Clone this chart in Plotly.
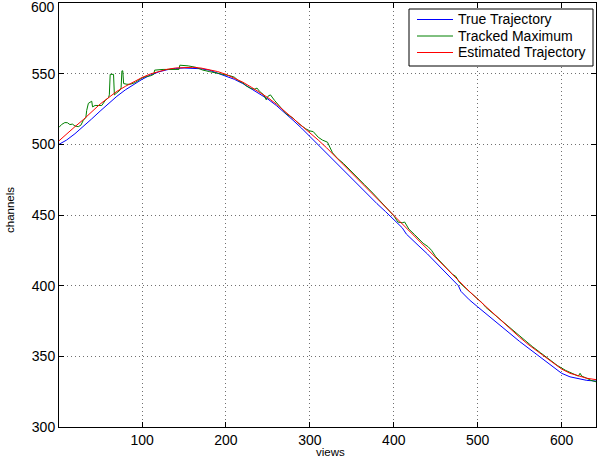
import plotly.graph_objects as go

# ---- data ----
true_x = [1, 10, 20, 30, 40, 50, 60, 70, 80, 90, 100, 110, 120, 130, 140, 150, 160, 170, 180, 190,
          200, 210, 220, 230, 240, 250, 260, 270, 280, 290, 300, 310, 320, 330, 340, 350, 360, 370,
          380, 390, 400, 410, 415, 420, 430, 440, 450, 460, 470, 477, 480, 490, 500, 510, 520, 530,
          540, 550, 560, 570, 580, 590, 598, 600, 610, 620, 630, 641]
true_y = [500, 503, 507.5, 512.5, 518, 523.5, 529, 534, 538.5, 542.5, 546, 549, 551.3, 552.8, 553.7, 554,
          554, 553.5, 552.5, 550.5, 548.5, 546, 543, 539.5, 536, 532, 527.5, 522.5, 517, 511.5, 505.5,
          499.5, 493.5, 487.5, 481.5, 475.5, 469.5, 463.5, 458, 452.5, 447, 441, 436.5, 433.5, 428,
          422.5, 416.5, 410.5, 404.5, 400, 396, 390, 385, 380, 375.5, 370.5, 365.5, 360.5, 356, 351.5,
          347, 343, 339.5, 338, 335.5, 334, 333, 332.5]

est_x = [1, 10, 20, 30, 40, 50, 60, 70, 80, 90, 100, 110, 120, 130, 140, 150, 160, 170, 180, 190,
         200, 210, 220, 230, 240, 250, 260, 270, 280, 290, 300, 310, 320, 330, 340, 350, 360, 370,
         380, 390, 400, 410, 420, 430, 440, 450, 460, 470, 480, 490, 500, 510, 520, 530, 540, 550,
         560, 570, 580, 590, 600, 610, 620, 630, 641]
est_y = [502.5, 507.5, 512.5, 517.5, 523, 528.5, 533, 537.5, 541, 544.3, 547.3, 549.8, 551.7, 553.1, 554,
         554.5, 554.5, 554, 553, 551.5, 549.5, 547, 544, 540.5, 537, 533, 528.5, 523.5, 518.5, 513.5,
         508.5, 503, 497.5, 491.5, 485.5, 479.5, 473.5, 467.5, 461.5, 455.5, 449.5, 443.5, 437.5,
         431.5, 425.5, 419.5, 413.5, 407.5, 401.5, 396, 390.5, 385, 379.5, 374, 368.5, 363.5, 358.5,
         354, 349.5, 345, 341, 338, 336, 334.5, 333.5]

trk_x = [1, 4, 8, 11, 14, 17, 20, 24, 27, 30, 33, 34, 36, 40, 41, 44, 48, 52, 56, 60, 61, 62, 66, 67,
         70, 74, 75, 76, 77, 78, 82, 86, 92, 96, 100, 105, 110, 114, 115, 125, 132, 134, 140, 144,
         145, 155, 164, 172, 180, 185, 195, 200, 205, 210, 215, 220, 225, 230, 234, 237, 240, 245,
         247, 248, 250, 253, 258, 265, 272, 280, 287, 295, 300, 304, 310, 315, 321, 327, 333, 340,
         348, 357, 365, 375, 385, 395, 400, 405, 410, 413, 418, 425, 435, 441, 445, 450, 460, 470,
         474, 478, 485, 495, 505, 510, 515, 525, 535, 545, 555, 565, 575, 585, 595, 605, 615, 620,
         622, 624, 630, 635, 641]
trk_y = [512, 514, 515.4, 515.3, 514, 514.3, 513, 512.5, 513.5, 517, 519, 524, 529, 530.5, 526.5,
         527.5, 527.5, 527.5, 531, 533, 535, 549.5, 549.5, 535, 536.5, 538.5, 540, 552, 552, 543,
         542.5, 542.5, 543.8, 545.5, 547, 548, 548.5, 549.5, 552.5, 553, 553, 552.5, 552.5, 553,
         556, 555.5, 554.5, 552.6, 551.5, 551, 549.5, 549.5, 548.5, 547.5, 545, 543.5, 541, 539.5,
         539, 539.8, 537.5, 535, 533, 531.5, 534, 535, 531, 526, 521.5, 518.5, 514.5, 511, 509.5,
         509, 505, 503, 501.5, 494, 490, 486.5, 481.5, 476.5, 471.5, 465.5, 459, 452.5, 449.5, 445,
         444.5, 445, 440, 436, 430, 427.5, 425, 420.5, 414, 408, 406.5, 402.5, 398.5, 393, 388,
         384.5, 382, 376.5, 371.5, 366.5, 361.5, 357, 352.5, 348, 343.5, 340, 337.5, 336, 338, 336,
         334.5, 333, 332]

x_ticks = [100, 200, 300, 400, 500, 600]
y_ticks = [300, 350, 400, 450, 500, 550, 600]

series_names = ["True Trajectory", "Tracked Maximum", "Estimated Trajectory"]
series_colors = ["#0000ff", "#008000", "#ff0000"]
x_title = "views"
y_title = "channels"

FONT = "Liberation Sans, Arial, Helvetica, sans-serif"

# figure / plot-area geometry (pixels)
W, H = 605, 463
ML, MR, MT, MB = 59, 9, 3, 36
PW, PH = W - ML - MR, H - MT - MB


def px_x(px):
    return (px - ML) / PW


def px_y(py):
    return (H - MB - py) / PH


fig = go.Figure()
for xs, ys, nm, col in [(true_x, true_y, series_names[0], series_colors[0]),
                        (trk_x, trk_y, series_names[1], series_colors[1]),
                        (est_x, est_y, series_names[2], series_colors[2])]:
    fig.add_trace(go.Scatter(x=xs, y=ys, mode="lines", name=nm,
                             line=dict(color=col, width=1), showlegend=False,
                             hoverinfo="skip"))

axis_common = dict(
    showline=True, linecolor="black", linewidth=1, mirror="ticks",
    ticks="inside", ticklen=5, tickcolor="black", tickwidth=1,
    showgrid=True, gridcolor="#707070", griddash="1px,3px", gridwidth=1,
    zeroline=False, tickfont=dict(family=FONT, size=14, color="black"),
    ticklabeloverflow="allow", automargin=False,
)

# the top y label sits just inside the window (as in the reference), so it is placed separately
y_ticktext = [str(v) for v in y_ticks]
top_label = y_ticktext[-1]
y_ticktext[-1] = ""

# legend box drawn as layout decoration (MATLAB-style)
shapes = [dict(type="rect", xref="paper", yref="paper",
               x0=px_x(409), x1=px_x(593), y0=px_y(66), y1=px_y(9),
               line=dict(color="black", width=1), fillcolor="white", layer="above")]
annotations = []
for i, (nm, col) in enumerate(zip(series_names, series_colors)):
    yy = px_y(19.5 + 16.5 * i)
    shapes.append(dict(type="line", xref="paper", yref="paper",
                       x0=px_x(417), x1=px_x(453), y0=yy, y1=yy,
                       line=dict(color=col, width=1), layer="above"))
    annotations.append(dict(xref="paper", yref="paper", x=px_x(456), y=yy,
                            text=nm, showarrow=False, xanchor="left", yanchor="middle",
                            font=dict(family=FONT, size=14, color="black")))

# axis titles
annotations.append(dict(xref="paper", yref="paper", x=px_x(330), y=px_y(452),
                        text=x_title, showarrow=False, xanchor="center", yanchor="middle",
                        font=dict(family=FONT, size=11.5, color="black")))
annotations.append(dict(xref="paper", yref="paper", x=px_x(10), y=px_y(210),
                        text=y_title, showarrow=False, xanchor="center", yanchor="middle",
                        textangle=-90, font=dict(family=FONT, size=11.5, color="black")))
annotations.append(dict(xref="paper", yref="paper", x=px_x(57), y=px_y(6.5),
                        text=top_label, showarrow=False, xanchor="right", yanchor="middle",
                        font=dict(family=FONT, size=14, color="black")))

fig.update_layout(
    width=W, height=H,
    margin=dict(l=ML, r=MR, t=MT, b=MB, autoexpand=False),
    paper_bgcolor="white", plot_bgcolor="white",
    font=dict(family=FONT, size=14, color="black"),
    xaxis=dict(range=[1, 641], tickvals=x_ticks, ticktext=[str(v) for v in x_ticks],
               **axis_common),
    yaxis=dict(range=[300, 600], tickvals=y_ticks, ticktext=y_ticktext,
               **axis_common),
    shapes=shapes,
    annotations=annotations,
    showlegend=False,
    hovermode=False,
)

fig.write_html("out.html", config={"displayModeBar": False, "staticPlot": True},
               post_script="document.body.style.margin='0px';")
